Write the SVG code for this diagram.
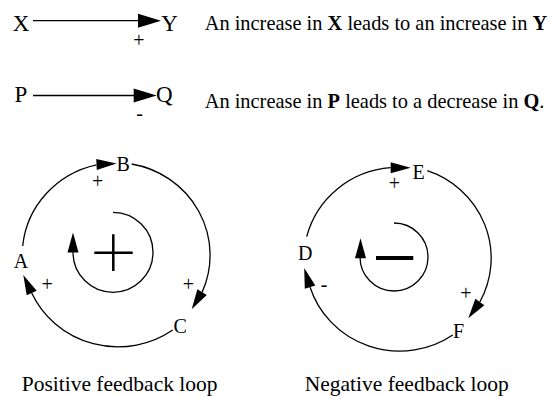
<svg xmlns="http://www.w3.org/2000/svg" xmlns:xlink="http://www.w3.org/1999/xlink" width="549" height="396" viewBox="0 0 549 396">
<style>
text{font-family:"Liberation Serif","Times New Roman",serif;fill:#000}
.lbl{font-size:23px}
.nd{font-size:20px}
.desc{font-size:20.4px}
.cap{font-size:21.5px}
.sg{font-size:20px;text-anchor:middle}
.ln{fill:none;stroke:#000;stroke-width:1.3}
.sym{fill:none;stroke:#000;stroke-width:2.5}
.ah{fill:#000}
</style>
<defs>
<path id="ahL" d="M0,0 L-23,-7 L-23,7 Z"/>
<path id="ah" d="M0,0 L-20,-5.5 L-20,5.5 Z"/>
</defs>
<rect width="549" height="396" fill="#fff"/>
<g id="legend-nodes">
<g id="X"><text class="lbl" x="12.8" y="30.5">X</text></g>
<g id="Y"><text class="lbl" x="161.2" y="30.5">Y</text></g>
<g id="P"><text class="lbl" x="14.6" y="102">P</text></g>
<g id="Q"><text class="lbl" x="155.9" y="102">Q</text></g>
</g>
<g id="descriptions">
<text class="desc" x="204.7" y="29.5">An increase in <tspan font-weight="bold">X</tspan> leads to an increase in <tspan font-weight="bold">Y</tspan></text>
<text class="desc" x="204.7" y="108">An increase in <tspan font-weight="bold">P</tspan> leads to a decrease in <tspan font-weight="bold">Q</tspan>.</text>
</g>
<g id="positive-loop">
<g id="A"><text class="nd" x="13.7" y="268">A</text></g>
<g id="B"><text class="nd" x="116.4" y="170.7">B</text></g>
<g id="C"><text class="nd" x="173.4" y="332.5">C</text></g>
<g id="pos-symbol">
<path class="ln" d="M113,212.3 A40,40 0 1 1 73,252.3"/>
<use xlink:href="#ah" class="ah" transform="translate(73,232.5) rotate(-90)"/>
<path class="sym" d="M94.3,252.7 H132.7 M113.3,234.3 V271"/>
</g>
<text class="cap" x="21.7" y="391">Positive feedback loop</text>
</g>
<g id="negative-loop">
<g id="D"><text class="nd" x="298" y="260">D</text></g>
<g id="E"><text class="nd" x="412.5" y="179">E</text></g>
<g id="F"><text class="nd" x="453" y="337.5">F</text></g>
<g id="neg-symbol">
<path class="ln" d="M394,223 A34,34 0 1 1 360,257"/>
<use xlink:href="#ah" class="ah" transform="translate(360.5,238.3) rotate(-90)"/>
<path d="M376,258 H413.3" fill="none" stroke="#000" stroke-width="4"/>
</g>
<text class="cap" x="304.7" y="391">Negative feedback loop</text>
</g>
<g id="connectors">
<path class="ln" d="M33,20.7 H140"/>
<use xlink:href="#ahL" class="ah" transform="translate(161,20.7)"/>
<text class="sg" x="139" y="46.5">+</text>
<path class="ln" d="M33,95.5 H136"/>
<use xlink:href="#ahL" class="ah" transform="translate(156.7,95.5)"/>
<text class="sg" x="139.5" y="120">-</text>

<path class="ln" d="M22.7,246 A95,92.5 0 0 1 96.5,164.8"/>
<use xlink:href="#ah" class="ah" transform="translate(116.5,163.5) rotate(-3)"/>
<text class="sg" x="97.7" y="188">+</text>
<path class="ln" d="M131.7,164 A95,92.5 0 0 1 202.1,292.2"/>
<use xlink:href="#ah" class="ah" transform="translate(191.7,309.3) rotate(121.3)"/>
<text class="sg" x="188.5" y="290.5">+</text>
<path class="ln" d="M172.7,330 A95,92.5 0 0 1 31.7,293"/>
<use xlink:href="#ah" class="ah" transform="translate(23.3,274.9) rotate(-114.9)"/>
<text class="sg" x="47.2" y="291">+</text>

<path class="ln" d="M306.7,236.7 A94,92.2 0 0 1 390.7,167.7"/>
<use xlink:href="#ah" class="ah" transform="translate(410.7,167.7)"/>
<text class="sg" x="394.5" y="190">+</text>
<path class="ln" d="M427.3,170.7 A94,92.2 0 0 1 479.8,302"/>
<use xlink:href="#ah" class="ah" transform="translate(468.3,318.3) rotate(125.2)"/>
<text class="sg" x="465.8" y="300">+</text>
<path class="ln" d="M452.7,335 A94,92.2 0 0 1 310,287"/>
<use xlink:href="#ah" class="ah" transform="translate(304.2,267.9) rotate(-107)"/>
<text class="sg" x="324" y="290.5">-</text>
</g>
</svg>
